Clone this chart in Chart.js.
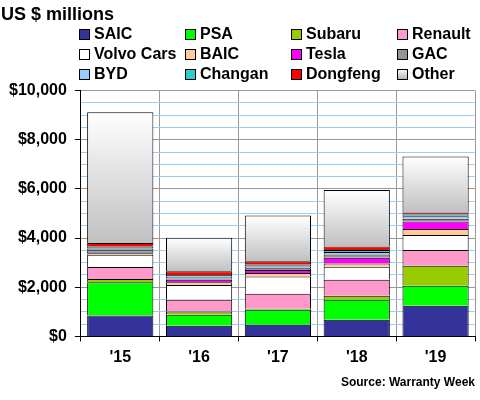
<!DOCTYPE html>
<html>
<head>
<meta charset="utf-8">
<script src="https://cdn.jsdelivr.net/npm/chart.js@4"></script>
<style>
  html, body { margin:0; padding:0; background:#fff; }
  #wrap { width:480px; height:400px; }
</style>
</head>
<body>
<div id="wrap"><canvas id="chart" width="480" height="400"></canvas></div>
<script>
/* ── Data (US $ millions) ── */
const years    = ["'15", "'16", "'17", "'18", "'19"];
const saic     = [850, 430, 470, 680, 1250];
const psa      = [1350, 450, 610, 810, 810];
const subaru   = [140, 135, 45, 165, 810];
const renault  = [480, 475, 610, 650, 650];
const volvo    = [500, 600, 700, 530, 610];
const baic     = [60, 110, 140, 135, 240];
const tesla    = [10, 100, 130, 225, 300];
const gac      = [110, 60, 70, 140, 120];
const byd      = [80, 70, 70, 95, 100];
const changan  = [70, 70, 70, 90, 70];
const dongfeng = [150, 150, 140, 140, 80];
const other    = [5320, 1360, 1865, 2300, 2280];
const yTicks   = [0, 2000, 4000, 6000, 8000, 10000];

const FONT = "'Liberation Sans', Arial, sans-serif";
Chart.defaults.font.family = FONT;
Chart.defaults.color = '#000';

/* Other: vertical gradient per bar, white on top fading to grey */
function otherFill(ctx) {
  const chart = ctx.chart, y = chart.scales.y;
  if (!y || y.top === undefined || ctx.dataIndex === undefined) return '#d8d8d8';
  const i = ctx.dataIndex;
  let base = 0;
  chart.data.datasets.forEach((ds, k) => { if (k < ctx.datasetIndex) base += ds.data[i]; });
  const top = base + chart.data.datasets[ctx.datasetIndex].data[i];
  const g = chart.ctx.createLinearGradient(0, y.getPixelForValue(top), 0, y.getPixelForValue(base));
  g.addColorStop(0, '#ffffff');
  g.addColorStop(1, '#c0c0c0');
  return g;
}

const series = [
  ['SAIC', saic, '#333399'],
  ['PSA', psa, '#00ff00'],
  ['Subaru', subaru, '#99cc00'],
  ['Renault', renault, '#ff99cc'],
  ['Volvo Cars', volvo, '#ffffff'],
  ['BAIC', baic, '#ffcc99'],
  ['Tesla', tesla, '#ff00ff'],
  ['GAC', gac, '#969696'],
  ['BYD', byd, '#99ccff'],
  ['Changan', changan, '#33cccc'],
  ['Dongfeng', dongfeng, '#ff0000'],
  ['Other', other, otherFill]
];

/* ── Legend drawn as a 4-column grid ── */
const gridLegend = {
  id: 'gridLegend',
  afterDraw(chart) {
    const c = chart.ctx;
    c.save();
    c.font = 'bold 16px ' + FONT;
    c.textBaseline = 'middle';
    chart.data.datasets.forEach((ds, i) => {
      const col = i % 4, row = Math.floor(i / 4);
      const x = 79 + col * 106, y = 34 + row * 20;
      if (typeof ds.backgroundColor === 'function') {
        const g = c.createLinearGradient(0, y - 5, 0, y + 6);
        g.addColorStop(0, '#ffffff'); g.addColorStop(1, '#b0b0b0');
        c.fillStyle = g;
      } else c.fillStyle = ds.backgroundColor;
      c.fillRect(x, y - 5, 11, 11);
      c.strokeStyle = '#000'; c.lineWidth = 1;
      c.strokeRect(x + 0.5, y - 4.5, 10, 10);
      c.fillStyle = '#000';
      c.fillText(ds.label, x + 15, y + 1);
    });
    c.restore();
  }
};

new Chart(document.getElementById('chart'), {
  type: 'bar',
  data: {
    labels: years,
    datasets: series.map(([label, data, color]) => ({
      label, data,
      backgroundColor: color,
      borderColor: '#000',
      borderWidth: 1,
      borderSkipped: 'start',
      categoryPercentage: 1,
      barPercentage: 0.84
    }))
  },
  options: {
    responsive: false,
    animation: false,
    layout: { padding: { left: 1, right: 5, top: 0, bottom: 0 } },
    plugins: {
      legend: { display: false },
      tooltip: { enabled: false },
      title: {
        display: true, text: 'US $ millions', align: 'start',
        font: { size: 18, weight: 'bold' }, color: '#000',
        padding: { top: 4, bottom: 65 }
      },
      subtitle: {
        display: true, text: 'Source: Warranty Week', position: 'bottom', align: 'end',
        font: { size: 12, weight: 'bold' }, color: '#000',
        padding: { top: 1, bottom: 10 }
      }
    },
    scales: {
      x: {
        stacked: true,
        offset: true,
        grid: { offset: true, color: '#999', lineWidth: 1, tickColor: '#000', tickLength: 5 },
        border: { color: '#000', width: 1 },
        ticks: { font: { size: 16, weight: 'bold' }, color: '#000', padding: 7 }
      },
      y: {
        stacked: true,
        min: 0, max: 10000,
        border: { color: '#000', width: 1 },
        grid: {
          color: ctx => yTicks.includes(ctx.tick.value) ? '#999' : '#99ccff',
          tickColor: ctx => yTicks.includes(ctx.tick.value) ? '#000' : 'rgba(0,0,0,0)',
          tickLength: 6
        },
        ticks: {
          stepSize: 500, autoSkip: false, padding: 8,
          font: { size: 16, weight: 'bold' }, color: '#000',
          callback: v => yTicks.includes(v) ? '$' + v.toLocaleString('en-US') : ''
        }
      }
    }
  },
  plugins: [gridLegend]
});
</script>
</body>
</html>
